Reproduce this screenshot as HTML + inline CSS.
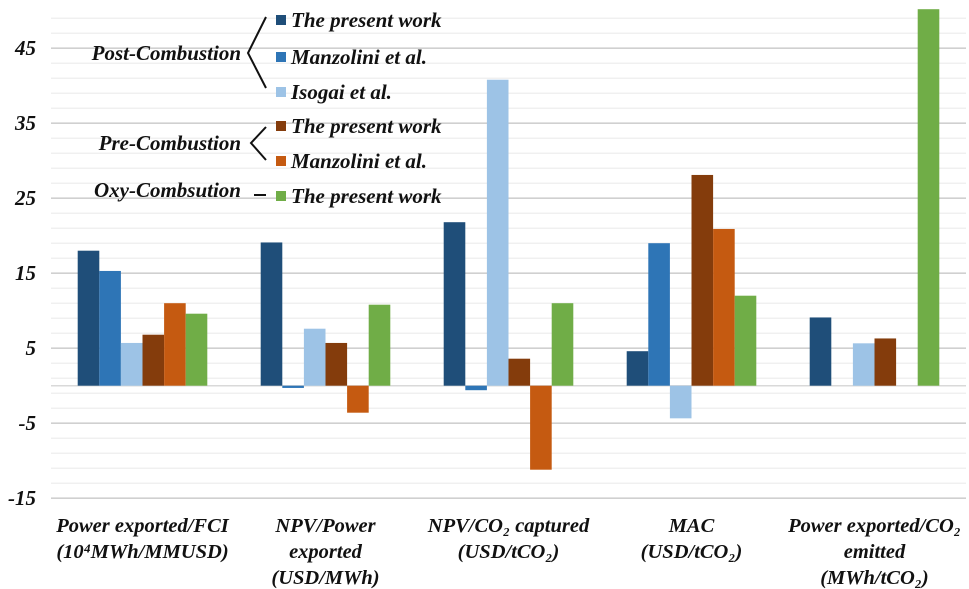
<!DOCTYPE html>
<html><head><meta charset="utf-8"><style>
html,body{margin:0;padding:0;background:#fff;}
svg{display:block;font-family:"Liberation Serif",serif;font-style:italic;font-weight:bold;}
</style></head><body>
<svg id="chart" width="969" height="589" viewBox="0 0 969 589">
<g id="grid"></g>
<g id="yticks"></g>
<g id="bars"></g>
<g id="xlabels"></g>
<g id="legend"></g>
</svg>
<script>
const categories = [
  ["Power exported/FCI","(10\u2074MWh/MMUSD)"],
  ["NPV/Power","exported","(USD/MWh)"],
  ["NPV/CO\u2082 captured","(USD/tCO\u2082)"],
  ["MAC","(USD/tCO\u2082)"],
  ["Power exported/CO\u2082","emitted","(MWh/tCO\u2082)"]
];
const seriesNames = ["Post present work","Post Manzolini","Post Isogai","Pre present work","Pre Manzolini","Oxy present work"];
const postPresent = [18, 19.1, 21.8, 4.6, 9.1];
const postManzolini = [15.3, -0.3, -0.6, 19, 0];
const postIsogai = [5.7, 7.6, 40.8, -4.35, 5.65];
const prePresent = [6.8, 5.7, 3.6, 28.1, 6.3];
const preManzolini = [11, -3.6, -11.2, 20.9, 0];
const oxyPresent = [9.6, 10.8, 11, 12, 50.2];
const series = [postPresent, postManzolini, postIsogai, prePresent, preManzolini, oxyPresent];
const colors = ["#1f4e79","#2e75b6","#9dc3e6","#843c0c","#c55a11","#70ad47"];
const tickLabels = ["45","35","25","15","5","-5","-15"];
const tickValues = [45,35,25,15,5,-5,-15];

const NS = "http://www.w3.org/2000/svg";
const plotL = 51, plotR = 966, zeroY = 385.7, pxPerUnit = 7.5;
const y = v => zeroY - v * pxPerUnit;
const catW = (plotR - plotL) / categories.length;
const barW = 21.6;
const xCenter = i => plotL + catW * (i + 0.5);
function mk(tag, attrs, parent){const e=document.createElementNS(NS,tag);for(const k in attrs)e.setAttribute(k,attrs[k]);parent.appendChild(e);return e;}

const grid = document.getElementById('grid');
for (let v = 49; v >= -15; v -= 2) {
  const major = tickValues.includes(v);
  const l = mk('line',{x1:plotL,x2:plotR,y1:y(v),y2:y(v),stroke:major?'#d0d0d0':'#ececec','stroke-width':major?1.6:1.2},grid);
  
  
}
const zl = mk('line',{x1:plotL,x2:plotR,y1:zeroY,y2:zeroY,stroke:'#d9d9d9','stroke-width':1.5},grid);



const yt = document.getElementById('yticks');
tickValues.forEach((v,i)=>{
  const t = mk('text',{x:36,y:y(v)+7,'text-anchor':'end','font-size':21,fill:'#111'},yt);
  t.textContent = tickLabels[i];
  
  
});

const bars = document.getElementById('bars');
const n = series.length;
categories.forEach((c,ci)=>{
  series.forEach((s,si)=>{
    const v = s[ci];
    if (v === 0) return;
    const x = xCenter(ci) - n*barW/2 + si*barW;
    const top = Math.min(y(v), zeroY), h = Math.abs(y(v) - zeroY);
    const r = mk('rect',{x:x,y:top,width:barW,height:h,fill:colors[si]},bars);
    
    
  });
});

const xl = document.getElementById('xlabels');
categories.forEach((lines,ci)=>{
  lines.forEach((ln,li)=>{
    const t = mk('text',{x:xCenter(ci),y:532+li*26,'text-anchor':'middle','font-size':20.5,fill:'#111'},xl);
    t.textContent = ln;
    
    
  });
});

const lg = document.getElementById('legend');
const legendLabels = ["The present work","Manzolini et al.","Isogai et al.","The present work","Manzolini et al.","The present work"];
const rowY = [20, 57, 92, 126, 161, 196];
legendLabels.forEach((lab,i)=>{
  const sw = mk('rect',{x:276,y:rowY[i]-5,width:10,height:10,fill:colors[i]},lg);
  
  
  const t = mk('text',{x:291,y:rowY[i]+7,'font-size':21,fill:'#111'},lg);
  t.textContent = lab;
  
  
});
const groups = [["Post-Combustion",53],["Pre-Combustion",143],["Oxy-Combsution",190]];
groups.forEach(g=>{
  const t = mk('text',{x:241,y:g[1]+7,'text-anchor':'end','font-size':21,fill:'#111'},lg);
  t.textContent = g[0];
  
  
});
const br1 = mk('path',{d:'M266,17 L248,53 L266,88',fill:'none',stroke:'#111','stroke-width':2},lg);


const br2 = mk('path',{d:'M266,127 L251,143 L266,160',fill:'none',stroke:'#111','stroke-width':2},lg);


const br3 = mk('path',{d:'M254,195 L266,195',fill:'none',stroke:'#111','stroke-width':2},lg);


</script>
</body></html>
